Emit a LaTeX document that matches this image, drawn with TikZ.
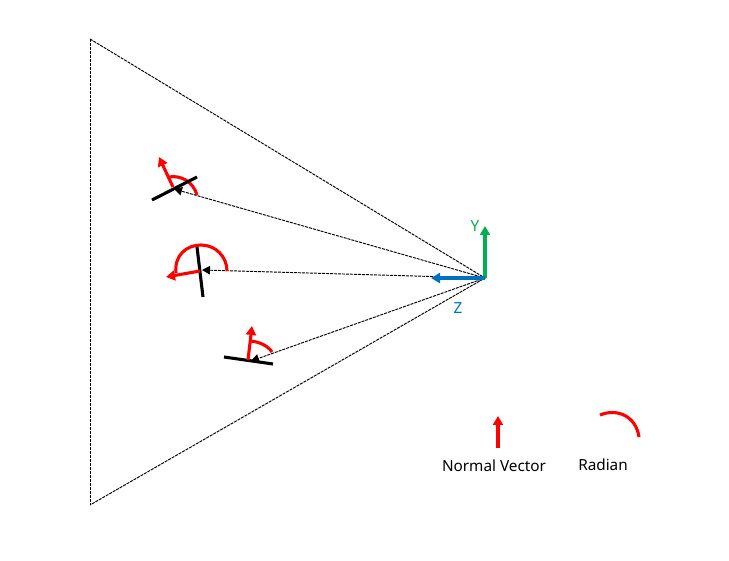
\documentclass[tikz,border=0pt]{standalone}
\usepackage{fontspec}
\setmainfont{Noto Sans}
\usepackage{tikz}
\usetikzlibrary{arrows.meta}
\definecolor{axisgreen}{HTML}{00B050}
\definecolor{axisblue}{HTML}{0070C0}
\tikzset{
  ray/.style={line width=.95pt,dash pattern=on 3pt off 1pt},
  rayhead/.style={ray,-{Triangle[length=8pt,width=8.5pt]}},
  plane/.style={line width=3.1pt,black},
  normalvec/.style={line width=3.1pt,red,-{Triangle[length=9pt,width=10pt]}},
  radian/.style={line width=3.1pt,red},
  axisvec/.style={line width=3.1pt,-{Triangle[length=9pt,width=10pt]}},
}
\begin{document}
\begin{tikzpicture}[x=1pt,y=-1pt,font=\fontsize{15.3}{18}\selectfont]
\useasboundingbox (0,0) rectangle (729,561);
\coordinate (O) at (485,278);\coordinate (T) at (90,39);\coordinate (B) at (90,505);
\coordinate (Yt) at (485,226);\coordinate (Zt) at (431,278);
\coordinate (a1) at (152,200);\coordinate (a2) at (197,177);\coordinate (an) at (173,187);\coordinate (at) at (159,157);\coordinate (ah) at (174,189);
\coordinate (b1) at (197,247);\coordinate (b2) at (203,297);\coordinate (bn) at (200,271);\coordinate (bt) at (166,277);\coordinate (bh) at (202,270);
\coordinate (c1) at (224,357);\coordinate (c2) at (273,364);\coordinate (cn) at (248,360);\coordinate (ct) at (252,326);\coordinate (ch) at (251,361);
\draw[ray] (T)--(B);
\draw[ray] (T)--(O)--(B);
\draw[rayhead] (O)--(ah);
\draw[rayhead] (O)--(bh);
\draw[rayhead] (O)--(ch);
\draw[radian] (169,177) .. controls (180,175) and (193,181) .. (197,195);
\draw[radian] (176,273) .. controls (174,256) and (186,245) .. (201,245) .. controls (216,245) and (227,257) .. (227,271);
\draw[radian] (251,341) .. controls (260,342) and (268,346) .. (272,352);
\draw[plane] (a1)--(a2);
\draw[plane] (b1)--(b2);
\draw[plane] (c1)--(c2);
\draw[normalvec] (an)--(at);
\draw[normalvec] (bn)--(bt);
\draw[normalvec] (cn)--(ct);
\draw[axisvec,axisgreen] (O)--(Yt);
\draw[axisvec,axisblue] (O)--(Zt);
\node[text=axisgreen] (Y) at (475,226) {Y};
\node[text=axisblue] (Z) at (458,308) {Z};
\coordinate (lb) at (498,448);\coordinate (lt) at (498,416);
\draw[normalvec] (lb)--(lt);
\draw[radian] (600,415) .. controls (617,408) and (636,416) .. (639,437);
\node (normal) at (494,466) {Normal Vector};
\node (rad) at (603,465) {Radian};
\end{tikzpicture}
\end{document}
